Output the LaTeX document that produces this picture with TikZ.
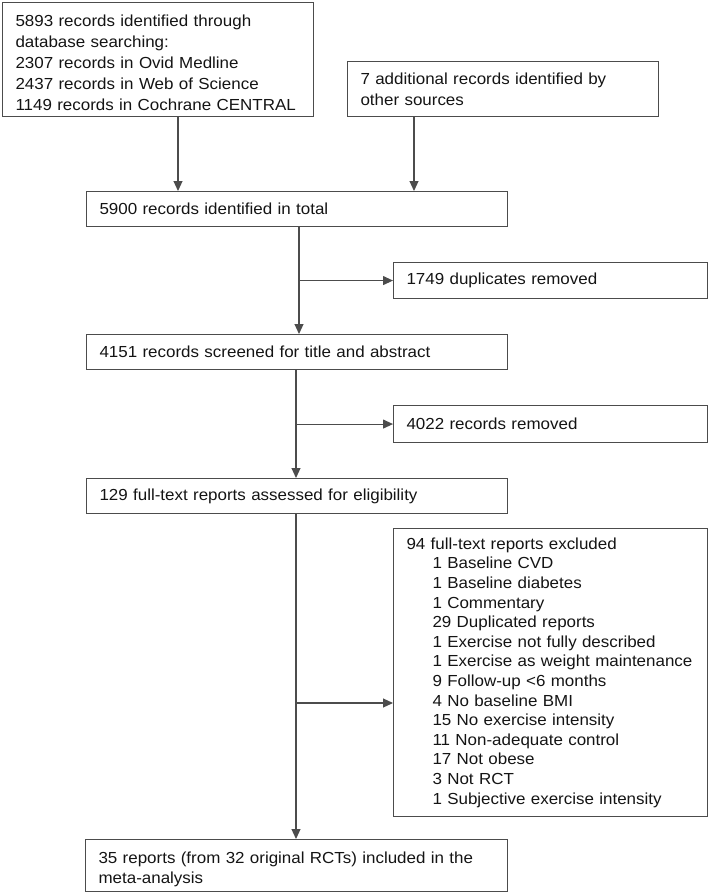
\documentclass[tikz,border=0pt]{standalone}
\usepackage{fontspec}
\setmainfont{Liberation Sans}[FakeStretch=1.06]
\usetikzlibrary{arrows.meta}
\newcommand{\lowered}[3]{\raisebox{-#1}[\height][\depth]{\parbox{#2}{\raggedright #3}}}
\begin{document}
\begin{tikzpicture}[x=1pt,y=-1pt,
  box/.style={draw=black!70, line width=1.1pt, anchor=north west, inner xsep=13pt, inner ysep=0pt,
    align=left, text=black!92, font=\fontsize{16}{21}\selectfont},
  conn/.style={draw=black!70, line width=1.1pt},
  arr/.style={conn, -{Triangle[length=10pt,width=9pt]}}]
\useasboundingbox (0,0) rectangle (709,894);

\node[box, text width=285pt, minimum height=114pt] (src1) at (2,2)
  {\lowered{3pt}{285pt}{5893 records identified through\\database searching:\\2307 records in Ovid Medline\\2437 records in Web of Science\\1149 records in Cochrane CENTRAL}};
\node[box, text width=285pt, minimum height=55pt] (src2) at (347,61)
  {7 additional records identified by\\other sources};
\node[box, text width=395pt, minimum height=35pt] (total) at (86,191)
  {5900 records identified in total};
\node[box, text width=288pt, minimum height=36pt] (dup) at (393,262)
  {1749 duplicates removed};
\node[box, text width=395pt, minimum height=35pt] (screen) at (86,334)
  {4151 records screened for title and abstract};
\node[box, text width=288pt, minimum height=37pt] (rem) at (393,405)
  {4022 records removed};
\node[box, text width=395pt, minimum height=35pt] (full) at (86,478)
  {129 full-text reports assessed for eligibility};
\node[box, text width=288pt, minimum height=288pt, font=\fontsize{16}{19.6}\selectfont] (excl) at (393,528)
  {94 full-text reports excluded\\
   \hspace*{26pt}1 Baseline CVD\\
   \hspace*{26pt}1 Baseline diabetes\\
   \hspace*{26pt}1 Commentary\\
   \hspace*{26pt}29 Duplicated reports\\
   \hspace*{26pt}1 Exercise not fully described\\
   \hspace*{26pt}1 Exercise as weight maintenance\\
   \hspace*{26pt}9 Follow-up <6 months\\
   \hspace*{26pt}4 No baseline BMI\\
   \hspace*{26pt}15 No exercise intensity\\
   \hspace*{26pt}11 Non-adequate control\\
   \hspace*{26pt}17 Not obese\\
   \hspace*{26pt}3 Not RCT\\
   \hspace*{26pt}1 Subjective exercise intensity};
\node[box, text width=396pt, minimum height=52pt, font=\fontsize{16}{20}\selectfont] (final) at (85,839)
  {\lowered{4pt}{396pt}{35 reports (from 32 original RCTs) included in the\\meta-analysis}};

% connectors
\coordinate (a1) at ([xshift=176pt]src1.south west);
\coordinate (a2) at ([xshift=67pt]src2.south west);
\draw[arr] (a1) -- (a1 |- total.north);
\draw[arr] (a2) -- (a2 |- total.north);

\coordinate (t1) at ([xshift=213pt]total.south west);
\draw[arr] (t1) -- (t1 |- screen.north);
\draw[arr] (t1 |- dup.west) -- (dup.west);

\coordinate (t2) at ([xshift=210pt]screen.south west);
\draw[arr] (t2) -- (t2 |- full.north);
\draw[arr] (t2 |- rem.west) -- (rem.west);

\coordinate (t3) at ([xshift=210pt]full.south west);
\coordinate (b3) at (296,703);
\draw[arr] (t3) -- (t3 |- final.north);
\draw[arr] (t3 |- b3) -- (b3 -| excl.west);
\end{tikzpicture}
\end{document}
